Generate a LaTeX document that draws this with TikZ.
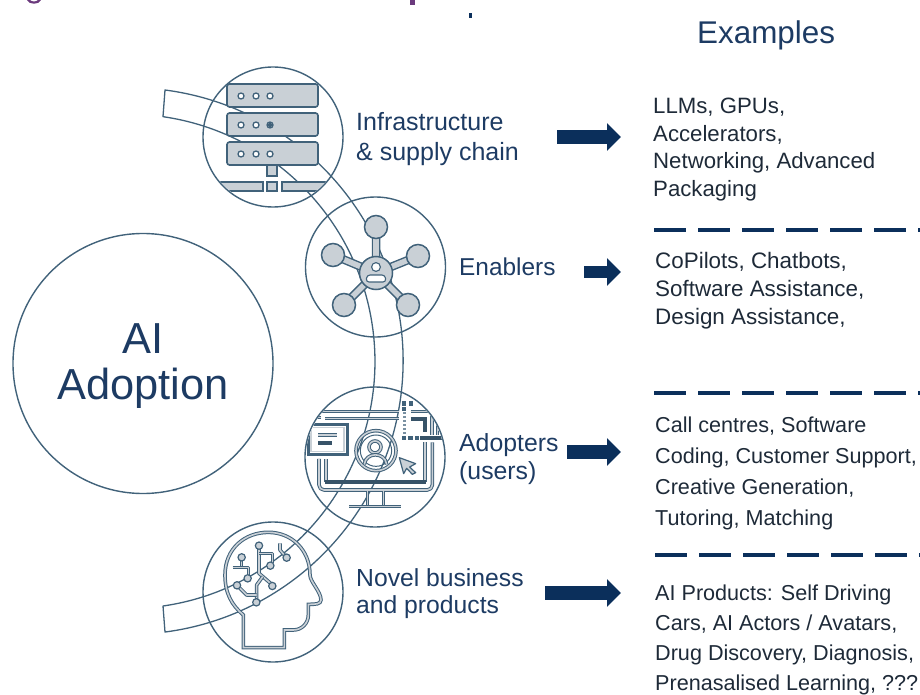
\documentclass[tikz,border=0pt]{standalone}
\usepackage{fontspec}
\setmainfont{Liberation Sans}
\usetikzlibrary{arrows.meta}
\definecolor{navy}{HTML}{0B2F5B}
\definecolor{labelc}{HTML}{1D3B63}
\definecolor{bodyc}{HTML}{1E2A38}
\definecolor{linec}{HTML}{41627A}
\definecolor{iconfill}{HTML}{C9D0D6}
\definecolor{titlec}{HTML}{6B3A7D}
\tikzset{
  ring/.style={circle,draw=linec,line width=1.4pt,inner sep=0pt,minimum size=#1},
  bandline/.style={draw=linec,line width=1.3pt,line join=round},
  srv/.style={draw=linec,fill=iconfill,line width=1.6pt,rounded corners=2.5pt},
  leaf/.style={draw=linec,fill=iconfill,line width=1.5pt},
  thinbar/.style={draw=linec,line width=1pt,double=iconfill,double distance=1.6pt,line join=round},
  heavy/.style={draw=linec!85!black,line width=4pt},
  lbl/.style={anchor=north west,inner sep=0pt,align=left,text=labelc},
  ex/.style={anchor=north west,inner sep=0pt,align=left,text=bodyc},
  blockarrow/.style={draw=navy,line width=#1,-{Triangle[length=14pt,width=27pt,fill=navy]}},
  divider/.style={draw=navy,line width=3.2pt,dash pattern=on 32pt off 12pt},
}
\begin{document}
\begin{tikzpicture}[x=1pt,y=-1pt]
\useasboundingbox (0,0) rectangle (920,695);
\clip (0,0) rectangle (920,695);

% cropped remains of the title line
\fill[titlec] (27,0) .. controls (29,5) and (39,5) .. (41,0) -- (38,0) .. controls (36,2) and (32,2) .. (30,0) -- cycle;
\fill[titlec] (410,0) rectangle (415,5);
\fill[navy] (469,13) rectangle (472,18);

% band
\draw[bandline] (165,90) arc[start angle=-82.6,end angle=82.6,radius=273.3]
  -- (163,606) arc[start angle=81.8,end angle=-81.8,radius=247.2] -- cycle;

% rings
\node[ring=260pt] (adopt) at (143,363.5) {};
\node[text=labelc,font=\fontsize{43.4}{46}\selectfont,align=center,inner sep=0pt] (adopttext) at (143,366.5) {AI\\Adoption};
\node[ring=140pt] (c1) at (273,137) {};
\node[ring=140pt] (c2) at (375.5,267) {};
\node[ring=140pt] (c3) at (375,457) {};
\node[ring=140pt] (c4) at (273,592) {};

% server icon
\foreach \t in {84,113,142}{
  \draw[srv] (227,\t) rectangle (318,\t+23);
  \foreach \dx in {241,256,270}
    \draw[draw=linec,fill=white,line width=1.3pt] (\dx,\t+12) circle (3);
}
\fill[linec] (270,125) circle (2.2);
\begin{scope}
  \clip (273,137) circle (69);
  \draw[srv,rounded corners=0pt] (267,165) rectangle (277,176);
  \draw[srv,rounded corners=0pt] (267,182) rectangle (277,191);
  \draw[srv,rounded corners=0pt] (215,182) rectangle (263,191);
  \draw[srv,rounded corners=0pt] (282,182) rectangle (335,191);
\end{scope}

% network icon
\draw[draw=linec,line width=8.5pt,line cap=round] (376,273) -- (376,227) (376,273) -- (333,255) (376,273) -- (418,256) (376,273) -- (344,305) (376,273) -- (408,305);
\draw[draw=iconfill,line width=5.6pt,line cap=round] (376,273) -- (376,227) (376,273) -- (333,255) (376,273) -- (418,256) (376,273) -- (344,305) (376,273) -- (408,305);
\foreach \p in {(376,227),(333,255),(418,256),(344,305),(408,305)}
  \draw[leaf] \p circle (11.5);
\draw[leaf] (376,273) circle (16.5);
\draw[draw=linec,fill=white,line width=1.1pt] (376,267) circle (4.4);
\draw[draw=linec,fill=white,line width=1.1pt,rounded corners=3pt] (366,282) -- (367,275) -- (385,275) -- (386,282) -- cycle;

% monitor icon (coordinates of a 3x crop)
\begin{scope}
  \clip (375,457) circle (69);
  \begin{scope}[shift={(300,385)},x=.3333pt,y=-.3333pt]
    \draw[thinbar] (55,80) -- (298,80);
    \draw[thinbar] (75,101) -- (298,101);
    \draw[thinbar] (40,98) -- (62,98);
    \draw[draw=linec,line width=3pt,fill=white] (24,119) rectangle (141,209);
    \draw[draw=iconfill,line width=1.2pt] (33,128) rectangle (132,200);
    \draw[thinbar] (55,150) -- (112,150);
    \draw[heavy] (55,175) -- (97,175);
    % avatar
    \draw[thinbar] (228,197) circle (60);
    \draw[draw=linec,line width=1pt] (228,197) circle (47);
    \draw[thinbar] (225,186) circle (18);
    \draw[thinbar] (193,238) .. controls (197,200) and (255,200) .. (260,238);
    % cursor
    \draw[draw=linec,fill=iconfill,line width=1.2pt,line join=round] (298,218) -- (347,236) -- (329,246) -- (347,263) -- (337,268) -- (320,250) -- (311,266) -- cycle;
    % screen
    \draw[thinbar,rounded corners=5pt] (57,222) -- (57,315) -- (397,315) -- (397,172);
    \draw[thinbar] (78,222) -- (78,290) (375,290) -- (375,172);
    \draw[heavy] (76,291) -- (377,291);
    % stand
    \draw[thinbar] (202,318) -- (202,365) (250,318) -- (250,365);
    \draw[thinbar] (148,365) -- (302,365);
    % corner pattern
    \foreach \q in {(312,55),(333,55),(312,72),(312,158),(331,158),(350,158)}
      \fill[linec] \q ++(-6,-6) rectangle ++(13,13);
    \foreach \yy in {88,100,112,124,136,146}
      \fill[linec!70!white] (309,\yy) rectangle ++(8,-6);
    \draw[heavy] (360,158) -- (430,158);
    \draw[heavy] (332,102) -- (375,102) -- (375,140);
    \draw[thinbar] (332,80) -- (396,80) -- (396,150);
    \draw[thinbar] (412,100) -- (412,150);
  \end{scope}
\end{scope}

% head icon (coordinates of a 3x crop)
\begin{scope}[shift={(215,525)},x=.3333pt,y=-.3333pt]
  \draw[thinbar,line join=miter] (85,368) -- (85,270) .. controls (50,240) and (30,205) .. (30,150)
    .. controls (30,70) and (90,22) .. (160,22) .. controls (230,22) and (285,75) .. (285,150)
    .. controls (285,170) and (318,200) .. (318,225) .. controls (318,238) and (300,238) .. (280,238)
    -- (280,270) .. controls (280,295) and (260,315) .. (235,315) -- (208,315) -- (208,368) -- cycle;
  \draw[thinbar] (132,72) -- (132,145) -- (168,176);
  \draw[thinbar] (132,85) -- (172,85) -- (172,115);
  \draw[thinbar] (143,155) -- (125,180) -- (125,222);
  \draw[thinbar] (125,210) -- (95,210) -- (72,187);
  \draw[thinbar] (80,105) -- (80,127);
  \draw[thinbar] (53,127) -- (100,127) -- (100,152);
  \draw[thinbar] (195,55) -- (195,75) -- (212,95);
  \foreach \p in {(132,62),(172,183),(166,122),(124,232),(66,181),(80,97),(98,160),(215,98)}
    \draw[draw=linec,fill=iconfill,line width=1.2pt] \p circle (11);
\end{scope}

% labels
\node[lbl,font=\fontsize{25}{30}\selectfont] (l1) at (356,112) {Infrastructure\\\& supply chain};
\node[lbl,font=\fontsize{24.4}{28}\selectfont] (l2) at (459,258) {Enablers};
\node[lbl,font=\fontsize{24.8}{28}\selectfont] (l3) at (459,433) {Adopters\\(users)};
\node[lbl,font=\fontsize{24.7}{26.5}\selectfont] (l4) at (356,568.5) {Novel business\\and products};

% examples
\node[anchor=base west,inner sep=0pt,text=labelc,font=\fontsize{31.4}{36}\selectfont] (hd) at (697,44) {Examples};
\node[ex,font=\fontsize{22.2}{27.6}\selectfont] (e1) at (653,98) {LLMs, GPUs,\\Accelerators,\\Networking, Advanced\\Packaging};
\node[ex,font=\fontsize{22.4}{28}\selectfont] (e2) at (655,252) {CoPilots, Chatbots,\\Software Assistance,\\Design Assistance,};
\node[ex,font=\fontsize{21.6}{31}\selectfont] (e3) at (655,417) {Call centres, Software\\Coding, Customer Support,\\Creative Generation,\\Tutoring, Matching};
\node[ex,font=\fontsize{21.6}{30.2}\selectfont] (e4) at (655,584.5) {AI Products: Self Driving\\Cars, AI Actors / Avatars,\\Drug Discovery, Diagnosis,\\Prenasalised Learning, ???};

% block arrows
\coordinate (a1s) at (557,137); \coordinate (a1e) at (621,137);
\coordinate (a2s) at (584,272); \coordinate (a2e) at (621,272);
\coordinate (a3s) at (567,452); \coordinate (a3e) at (621,452);
\coordinate (a4s) at (545,593); \coordinate (a4e) at (621,593);
\draw[blockarrow=14pt] (a1s) -- (a1e);
\draw[blockarrow=12pt] (a2s) -- (a2e);
\draw[blockarrow=14pt] (a3s) -- (a3e);
\draw[blockarrow=14pt] (a4s) -- (a4e);

% dividers
\coordinate (d1s) at (654,230); \coordinate (d1e) at (920,230);
\coordinate (d2s) at (654,393); \coordinate (d2e) at (920,393);
\coordinate (d3s) at (655,555); \coordinate (d3e) at (920,555);
\draw[divider] (d1s) -- (d1e);
\draw[divider] (d2s) -- (d2e);
\draw[divider] (d3s) -- (d3e);
\end{tikzpicture}
\end{document}
